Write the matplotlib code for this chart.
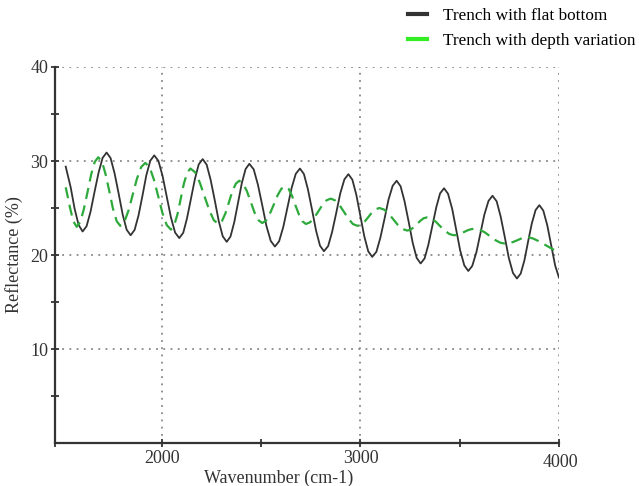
import matplotlib
matplotlib.use("Agg")
import matplotlib.pyplot as plt
import matplotlib.transforms as mtransforms
from matplotlib.lines import Line2D

# reflectance spectra
flat_x = [1515, 1540, 1560, 1580, 1600,
          1620, 1640, 1660, 1681, 1701, 1721,
          1741, 1761, 1782, 1802, 1822, 1842,
          1862, 1882, 1902, 1921, 1941, 1961,
          1982, 2003, 2024, 2045, 2066, 2087,
          2107, 2126, 2146, 2166, 2185, 2205,
          2225, 2245, 2266, 2286, 2306, 2326,
          2345, 2364, 2383, 2402, 2421, 2440,
          2462, 2483, 2505, 2526, 2548, 2569,
          2590, 2611, 2632, 2653, 2674, 2695,
          2715, 2735, 2756, 2776, 2796, 2816,
          2837, 2857, 2878, 2898, 2919, 2939,
          2959, 2979, 2999, 3019, 3039, 3059,
          3080, 3100, 3121, 3141, 3162, 3182,
          3202, 3222, 3243, 3263, 3283, 3303,
          3323, 3342, 3362, 3382, 3401, 3421,
          3441, 3462, 3482, 3502, 3523, 3543,
          3563, 3584, 3604, 3624, 3645, 3665,
          3686, 3706, 3727, 3747, 3768, 3788,
          3807, 3826, 3844, 3863, 3882, 3901,
          3921, 3941, 3961, 3981, 4000]
flat_y = [29.4, 27.2, 24.9, 23.2, 22.5,
          23.06, 24.6, 26.7, 28.8, 30.34, 30.9,
          30.31, 28.7, 26.5, 24.3, 22.69, 22.1,
          22.67, 24.23, 26.35, 28.48, 30.03, 30.6,
          30.01, 28.4, 26.2, 24.0, 22.39, 21.8,
          22.36, 23.9, 26.0, 28.1, 29.64, 30.2,
          29.61, 28.0, 25.8, 23.6, 21.99, 21.4,
          21.96, 23.48, 25.55, 27.63, 29.14, 29.7,
          29.11, 27.5, 25.3, 23.1, 21.49, 20.9,
          21.46, 22.98, 25.05, 27.13, 28.64, 29.2,
          28.61, 27.0, 24.8, 22.6, 20.99, 20.4,
          20.95, 22.45, 24.5, 26.55, 28.05, 28.6,
          28.01, 26.4, 24.2, 22.0, 20.39, 19.8,
          20.34, 21.83, 23.85, 25.88, 27.36, 27.9,
          27.31, 25.7, 23.5, 21.3, 19.69, 19.1,
          19.64, 21.1, 23.1, 25.1, 26.56, 27.1,
          26.51, 24.9, 22.7, 20.5, 18.89, 18.3,
          18.84, 20.3, 22.3, 24.3, 25.76, 26.3,
          25.71, 24.1, 21.9, 19.7, 18.09, 17.5,
          18.02, 19.45, 21.4, 23.35, 24.78, 25.3,
          24.72, 23.15, 21.0, 18.85, 17.6]

depth_x = [1515, 1537, 1553, 1570,
           1588, 1606, 1625, 1643, 1661, 1679,
           1698, 1716, 1735, 1753, 1772, 1790,
           1811, 1832, 1853, 1874, 1895, 1916,
           1938, 1959, 1981, 2002, 2024, 2045,
           2061, 2078, 2094, 2110, 2127, 2143,
           2167, 2190, 2214, 2238, 2261, 2285,
           2302, 2320, 2337, 2354, 2372, 2389,
           2408, 2428, 2447, 2466, 2486, 2505,
           2524, 2543, 2563, 2582, 2601, 2620,
           2638, 2655, 2672, 2690, 2708, 2725,
           2746, 2767, 2788, 2808, 2829, 2850,
           2872, 2895, 2918, 2940, 2962, 2985,
           3003, 3022, 3040, 3058, 3077, 3095,
           3118, 3142, 3165, 3188, 3212, 3235,
           3252, 3268, 3285, 3302, 3318, 3335,
           3358, 3380, 3402, 3425, 3448, 3470,
           3488, 3505, 3522, 3540, 3558, 3575,
           3601, 3627, 3652, 3678, 3704, 3730,
           3749, 3768, 3788, 3807, 3826, 3845,
           3870, 3895, 3920, 3945, 3970, 4000]
depth_y = [27.2, 25.0, 23.6, 23.0,
           23.50, 24.85, 26.7, 28.55, 29.90, 30.4,
           29.91, 28.58, 26.75, 24.93, 23.59, 23.1,
           23.55, 24.78, 26.45, 28.13, 29.35, 29.8,
           29.32, 28.03, 26.25, 24.48, 23.18, 22.7,
           23.14, 24.33, 25.95, 27.58, 28.76, 29.2,
           28.80, 27.73, 26.25, 24.78, 23.70, 23.3,
           23.61, 24.45, 25.6, 26.75, 27.59, 27.9,
           27.6, 26.78, 25.65, 24.53, 23.70, 23.4,
           23.66, 24.38, 25.35, 26.33, 27.04, 27.3,
           27.03, 26.3, 25.3, 24.3, 23.57, 23.3,
           23.48, 23.98, 24.65, 25.33, 25.82, 26.0,
           25.81, 25.28, 24.55, 23.83, 23.29, 23.1,
           23.23, 23.58, 24.05, 24.53, 24.87, 25.0,
           24.84, 24.4, 23.8, 23.2, 22.76, 22.6,
           22.69, 22.95, 23.3, 23.65, 23.91, 24.0,
           23.87, 23.53, 23.05, 22.58, 22.23, 22.1,
           22.15, 22.28, 22.45, 22.63, 22.75, 22.8,
           22.69, 22.4, 22.0, 21.6, 21.31, 21.2,
           21.25, 21.38, 21.55, 21.73, 21.85, 21.9,
           21.75, 21.5, 21.2, 20.9, 20.6, 20.3]

labels = ["Trench with flat bottom", "Trench with depth variation"]
xticks = [2000, 3000, 4000]
yticks = [10, 20, 30, 40]

plt.rcParams['font.family'] = ['Liberation Serif', 'DejaVu Serif']

fig = plt.figure(figsize=(6.39, 4.86), dpi=100)
ax = fig.add_axes([55 / 639, 43 / 486, 504 / 639, 376 / 486])

ax.plot(flat_x, flat_y, color='#333333', lw=1.3, zorder=3)
ax.plot(depth_x, depth_y, color='#2eaa3c', lw=1.6, linestyle=(0, (5, 3)), zorder=3)

ax.set_xlim(1461, 4000)
ax.set_ylim(0, 40)
ax.set_xticks(xticks)
ax.set_xticks([1461, 2500, 3500], minor=True)
ax.set_yticks(yticks)
ax.set_yticks([5, 15, 25, 35], minor=True)
ax.set_yticklabels([str(v) for v in yticks])
ax.set_xticklabels([str(v) for v in xticks])

for v in xticks:
    ax.axvline(v, color='#888888', lw=1.3, linestyle=(0, (1, 3)), zorder=1)
for v in yticks:
    ax.axhline(v, color='#888888', lw=1.3, linestyle=(0, (1, 3)), zorder=1)

ax.spines['top'].set_visible(False)
ax.spines['right'].set_visible(False)
ax.spines['left'].set_linewidth(1.6)
ax.spines['bottom'].set_linewidth(1.6)
ax.spines['left'].set_color('#333333')
ax.spines['bottom'].set_color('#333333')
ax.tick_params(which='both', direction='inout', length=6, width=1.3, color='#333333',
               labelsize=13, labelcolor='#333333')
ax.tick_params(axis='y', pad=2)
ax.tick_params(axis='x', pad=2)

# the 4000 label sits a little lower in the original
last = ax.get_xticklabels()[-1]
last.set_transform(last.get_transform() +
                   mtransforms.ScaledTranslation(1 / 72, -3 / 72, fig.dpi_scale_trans))

ax.set_xlabel("Wavenumber (cm-1)", fontsize=13, color='#333333', x=0.443, labelpad=-1)
ax.set_ylabel("Reflectance (%)", fontsize=13, color='#333333', labelpad=5)

handles = [Line2D([], [], color='#333333', lw=3),
           Line2D([], [], color='#33ee22', lw=3)]
fig.legend(handles, labels, loc='upper left', bbox_to_anchor=(406 / 639, 1 - 6 / 486),
           frameon=False, fontsize=12.4, handlelength=1.1, handletextpad=0.95,
           labelspacing=0.55, borderpad=0.1, borderaxespad=0)

fig.savefig("out.png", dpi=100)
